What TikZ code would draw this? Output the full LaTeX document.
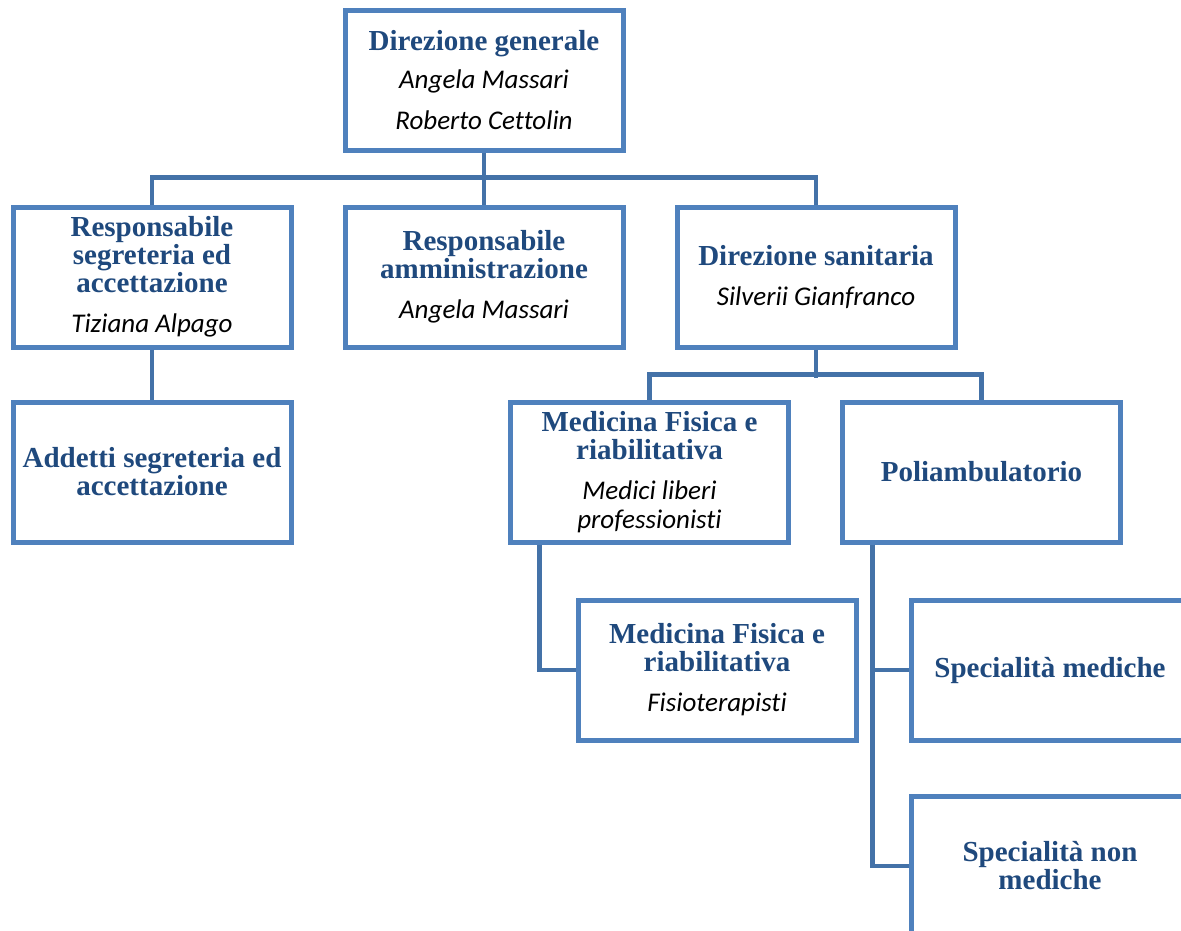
\documentclass[tikz,border=0pt]{standalone}
\usepackage{fontspec}
\usepackage{tikz}
\newfontfamily\orgserif{Liberation Serif}
\newfontfamily\orgsans{Carlito}[Ligatures=NoCommon]
\definecolor{boxblue}{HTML}{4F81BD}
\definecolor{linkblue}{HTML}{4472A8}
\definecolor{titblue}{HTML}{1F497D}
\newcommand{\orgtit}{\orgserif\bfseries\fontsize{29}{28}\selectfont\color{titblue}}
\newcommand{\orgname}{\orgsans\itshape\fontsize{27}{28}\selectfont\color{black}}

\begin{document}
\begin{tikzpicture}[x=1pt, y=-1pt,
    orgbox/.style={draw=boxblue, fill=white, line width=5pt, minimum width=278pt,
        minimum height=140pt, inner sep=0pt, align=center, font=\fontsize{27}{28}\selectfont},
    link/.style={draw=linkblue, line width=4.5pt}]
    \useasboundingbox (0,0) rectangle (1181,930);
    \clip (0,0) rectangle (1181,930);

    \node[orgbox] (dg) at (484,80) {{\orgtit Direzione generale}\\[10pt]{\orgname Angela Massari}\\[13pt]{\orgname Roberto Cettolin}};

    \node[orgbox] (rsa) at (152,277) {{\orgtit Responsabile}\\{\orgtit segreteria ed}\\{\orgtit accettazione}\\[12pt]{\orgname Tiziana Alpago}};
    \node[orgbox] (ramm) at (484,277) {{\orgtit Responsabile}\\{\orgtit amministrazione}\\[12pt]{\orgname Angela Massari}};
    \node[orgbox] (ds) at (816,277) {{\orgtit Direzione sanitaria}\\[12pt]{\orgname Silverii Gianfranco}};

    \node[orgbox] (add) at (152,472) {{\orgtit Addetti segreteria ed}\\{\orgtit accettazione}};
    \node[orgbox] (mfr) at (649.5,472) {{\orgtit Medicina Fisica e}\\{\orgtit riabilitativa}\\[12pt]{\orgname Medici liberi}\\[1pt]{\orgname professionisti}};
    \node[orgbox] (poli) at (981.5,472) {{\orgtit Poliambulatorio}};

    \node[orgbox] (fis) at (717,670) {{\orgtit Medicina Fisica e}\\{\orgtit riabilitativa}\\[12pt]{\orgname Fisioterapisti}};
    \node[orgbox] (spm) at (1050,670) {{\orgtit Specialità mediche}};
    \node[orgbox] (spnm) at (1050,866) {{\orgtit Specialità non}\\{\orgtit mediche}};

    \draw[link] (dg.south) -- (ramm.north);
    \draw[link] (rsa.north) -- ++(0,-27) -| (ds.north);
    \draw[link] (rsa.south) -- (add.north);
    \draw[link] (ds.south) -- ++(0,28);
    \draw[link] (mfr.north) -- ++(0,-25) -| (poli.north);
    \draw[link] ([xshift=-110pt]mfr.south) |- (fis.west);
    \draw[link] ([xshift=-109pt]poli.south) |- (spm.west);
    \draw[link] ([xshift=-109pt]poli.south) |- (spnm.west);
\end{tikzpicture}
\end{document}
